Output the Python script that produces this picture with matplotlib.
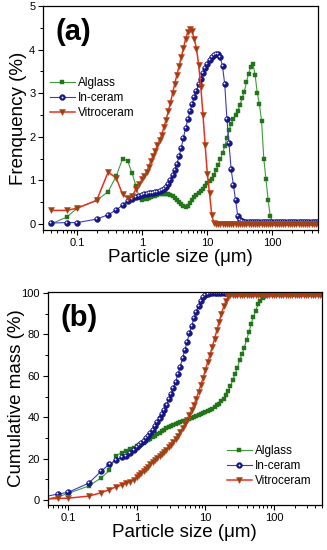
import matplotlib
matplotlib.use('Agg')
import matplotlib.pyplot as plt
import matplotlib.transforms as mtransforms
from matplotlib.ticker import LogLocator, NullFormatter, MultipleLocator, FixedLocator

plt.rcParams['font.family'] = ['Liberation Sans', 'DejaVu Sans']

# particle size grid (um)
sizes = [0.04, 0.07, 0.1, 0.2, 0.3, 0.4, 0.5, 0.6, 0.7, 0.8, 0.9,
         1.0, 1.08, 1.17, 1.26, 1.36, 1.47, 1.58, 1.71, 1.85, 2.0, 2.15, 2.32, 2.51, 2.71, 2.93,
         3.16, 3.41, 3.68, 3.98, 4.3, 4.64, 5.01, 5.41, 5.84, 6.31, 6.81, 7.36, 7.94, 8.58, 9.26,
         10, 10.8, 11.7, 12.6, 13.6, 14.7, 15.8, 17.1, 18.5, 20, 21.5, 23.2, 25.1, 27.1, 29.3,
         31.6, 34.1, 36.8, 39.8, 43, 46.4, 50.1, 54.1, 58.4, 63.1, 68.1, 73.6, 79.4, 85.8, 92.6,
         100, 108, 117, 126, 136, 147, 158, 171, 185, 200, 215,
         232, 251, 271, 293, 316, 341, 368, 398, 430, 464, 500]

# (a) frequency (%)
alglass_freq = [0.0, 0.16, 0.36, 0.54, 0.74, 1.10, 1.50, 1.44, 1.16, 0.88, 0.60,
                0.55, 0.56, 0.58, 0.60, 0.61, 0.63, 0.65, 0.66, 0.68, 0.69, 0.69, 0.69, 0.68, 0.66, 0.63,
                0.59, 0.55, 0.50, 0.45, 0.41, 0.39, 0.42, 0.48, 0.55, 0.61, 0.66, 0.71, 0.76, 0.81, 0.87,
                0.93, 0.98, 1.03, 1.12, 1.23, 1.35, 1.48, 1.62, 1.78, 1.98, 2.15, 2.30, 2.40, 2.50, 2.60,
                2.72, 2.88, 3.02, 3.25, 3.45, 3.60, 3.68, 3.42, 3.00, 2.75, 2.35, 1.50, 1.02, 0.55, 0.17,
                0.05, 0.03, 0.03, 0.03, 0.03, 0.03, 0.03, 0.03, 0.03, 0.03, 0.03,
                0.03, 0.03, 0.03, 0.03, 0.03, 0.03, 0.03, 0.03, 0.03, 0.03, 0.03]
inceram_freq = [0.02, 0.03, 0.03, 0.11, 0.21, 0.32, 0.43, 0.52, 0.57, 0.61, 0.65,
                0.67, 0.68, 0.69, 0.70, 0.71, 0.72, 0.73, 0.74, 0.76, 0.78, 0.81, 0.85, 0.92, 1.00, 1.12,
                1.24, 1.38, 1.55, 1.75, 1.98, 2.20, 2.40, 2.58, 2.75, 2.92, 3.06, 3.20, 3.33, 3.47, 3.58,
                3.68, 3.76, 3.83, 3.88, 3.91, 3.90, 3.82, 3.62, 3.20, 2.40, 1.85, 1.25, 0.90, 0.55, 0.19,
                0.08, 0.06, 0.05, 0.05, 0.05, 0.05, 0.05, 0.05, 0.05, 0.05, 0.05, 0.05, 0.05, 0.05, 0.05,
                0.05, 0.05, 0.05, 0.05, 0.05, 0.05, 0.05, 0.05, 0.05, 0.05, 0.05,
                0.05, 0.05, 0.05, 0.05, 0.05, 0.05, 0.05, 0.05, 0.05, 0.05, 0.05]
vitro_freq = [0.31, 0.31, 0.36, 0.54, 1.19, 1.05, 0.68, 0.59, 0.63, 0.80, 0.92,
              1.02, 1.10, 1.20, 1.31, 1.45, 1.56, 1.68, 1.80, 1.92, 2.05, 2.22, 2.38, 2.58, 2.78, 3.00,
              3.22, 3.42, 3.62, 3.83, 4.03, 4.25, 4.40, 4.48, 4.42, 4.25, 4.02, 3.65, 3.15, 2.50, 1.80,
              1.15, 0.70, 0.20, 0.02, 0.0, 0.0, 0.0, 0.0, 0.0, 0.0, 0.0, 0.0, 0.0, 0.0, 0.0,
              0.0, 0.0, 0.0, 0.0, 0.0, 0.0, 0.0, 0.0, 0.0, 0.0, 0.0, 0.0, 0.0, 0.0, 0.0,
              0.0, 0.0, 0.0, 0.0, 0.0, 0.0, 0.0, 0.0, 0.0, 0.0, 0.0,
              0.0, 0.0, 0.0, 0.0, 0.0, 0.0, 0.0, 0.0, 0.0, 0.0, 0.0]

# (b) cumulative mass (%)
alglass_cum = [0.0, 1.5, 3.2, 6.8, 10.6, 14.3, 21.5, 22.8, 23.8, 24.6, 25.3,
               26.0, 26.5, 27.1, 27.7, 28.3, 28.9, 29.6, 30.3, 31.0, 31.8, 32.6, 33.3, 34.0, 34.6, 35.2,
               35.8, 36.3, 36.8, 37.3, 37.7, 38.0, 38.4, 38.8, 39.2, 39.7, 40.1, 40.5, 41.0, 41.5, 42.0,
               42.5, 43.0, 43.5, 44.0, 44.8, 45.7, 46.6, 47.7, 49.0, 50.5, 52.5, 55.0, 58.0, 61.0, 64.0,
               67.5, 70.5, 73.5, 77.5, 81.0, 85.0, 88.5, 91.5, 94.5, 96.3, 97.6, 98.6, 99.3, 99.6, 99.6,
               99.6, 99.6, 99.6, 99.6, 99.6, 99.6, 99.6, 99.6, 99.6, 99.6, 99.6,
               99.6, 99.6, 99.6, 99.6, 99.6, 99.6, 99.6, 99.6, 99.6, 99.6, 99.6]
inceram_cum = [1.2, 2.9, 3.7, 8.2, 13.8, 17.4, 19.3, 20.6, 21.5, 22.8, 24.2,
               25.4, 26.4, 27.4, 28.5, 29.8, 31.0, 32.4, 34.0, 35.8, 37.6, 39.4, 41.4, 43.6, 46.0, 48.6,
               51.2, 54.0, 57.2, 60.8, 64.5, 68.5, 72.5, 76.5, 80.5, 84.3, 87.8, 91.0, 93.8, 96.2, 98.0,
               99.2, 99.6, 100, 100, 100, 100, 100, 100, 100, 100, 100, 100, 100, 100, 100,
               100, 100, 100, 100, 100, 100, 100, 100, 100, 100, 100, 100, 100, 100, 100,
               100, 100, 100, 100, 100, 100, 100, 100, 100, 100, 100,
               100, 100, 100, 100, 100, 100, 100, 100, 100, 100, 100]
vitro_cum = [0.3, 0.8, 0.9, 1.9, 3.5, 5.0, 6.4, 7.2, 8.0, 8.9, 9.9,
             11.0, 11.9, 12.9, 13.9, 15.0, 16.1, 17.2, 18.3, 19.3, 20.3, 21.2, 22.2, 23.3, 24.4, 25.6,
             26.8, 28.0, 29.4, 31.0, 32.7, 34.6, 36.6, 38.8, 41.0, 43.4, 46.0, 49.0, 52.2, 55.5, 59.0,
             63.0, 66.5, 70.3, 74.0, 78.0, 82.0, 86.0, 90.0, 93.5, 96.3, 98.0, 99.0, 99.2, 99.2, 99.2,
             99.2, 99.2, 99.2, 99.2, 99.2, 99.2, 99.2, 99.2, 99.2, 99.2, 99.2, 99.2, 99.2, 99.2, 99.2,
             99.2, 99.2, 99.2, 99.2, 99.2, 99.2, 99.2, 99.2, 99.2, 99.2, 99.2,
             99.2, 99.2, 99.2, 99.2, 99.2, 99.2, 99.2, 99.2, 99.2, 99.2, 99.2]

labels = ['Alglass', 'In-ceram', 'Vitroceram']

fig = plt.figure(figsize=(3.27, 5.5), dpi=100)
ax_a = fig.add_axes([43/327, 1-230/550, 275/327, 224/550])
ax_b = fig.add_axes([47.5/327, 1-505/550, 274.5/327, 213/550])


def draw(ax, ys, leg_xy):
    g, = ax.plot(sizes, ys[0], '-', color='#3f9b3a', lw=0.8, marker='s', ms=3.5,
                 mfc='#23751a', mec='#23751a', mew=0.3)
    b, = ax.plot(sizes, ys[1], '-', color='#3b3bc0', lw=0.8, marker='o', ms=4.2,
                 mfc='#16168f', mec='#101070', mew=0.3)
    # white shine on the balls
    shine = mtransforms.offset_copy(ax.transData, fig=fig, x=-0.7, y=0.7, units='points')
    hl, = ax.plot(sizes, ys[1], 'o', color='white', ms=1.3, mew=0, transform=shine)
    v, = ax.plot(sizes, ys[2], '-', color='#e8301e', lw=1.1, marker='v', ms=4.4,
                 mfc='#8a4812', mec='#d83a20', mew=0.4)
    ax.set_xscale('log')
    ax.xaxis.set_major_locator(FixedLocator([0.1, 1, 10, 100]))
    ax.set_xticklabels(['0.1', '1', '10', '100'])
    ax.xaxis.set_minor_locator(LogLocator(base=10, subs=range(2, 10), numticks=20))
    ax.xaxis.set_minor_formatter(NullFormatter())
    ax.tick_params(which='major', direction='out', length=3.5, width=0.8, labelsize=8,
                   top=False, right=False, pad=2)
    ax.tick_params(which='minor', direction='out', length=2, width=0.7, top=False, right=False)
    for s in ax.spines.values():
        s.set_linewidth(0.9)
    ax.legend([g, (b, hl), v], labels, loc='upper left', bbox_to_anchor=leg_xy,
              frameon=False, fontsize=8.5, handlelength=2.1, handletextpad=0.25,
              labelspacing=0.27, borderpad=0, borderaxespad=0, numpoints=1)


draw(ax_a, [alglass_freq, inceram_freq, vitro_freq], (0.025, 0.683))
ax_a.set_xlim(0.03, 500)
ax_a.set_ylim(-0.14, 5)
ax_a.yaxis.set_major_locator(MultipleLocator(1))
ax_a.yaxis.set_minor_locator(MultipleLocator(0.5))
ax_a.set_ylabel('Frenquency (%)', fontsize=13.5)
ax_a.set_xlabel('Particle size (\u03bcm)', fontsize=13.5)
ax_a.yaxis.set_label_coords(-0.058, 0.5)
ax_a.xaxis.set_label_coords(0.5, -0.085)
ax_a.text(0.044, 0.945, '(a)', transform=ax_a.transAxes, fontsize=21, fontweight='bold',
          va='top', ha='left')

draw(ax_b, [alglass_cum, inceram_cum, vitro_cum], (0.654, 0.282))
ax_b.set_xlim(0.05, 500)
ax_b.set_ylim(-2.4, 100.5)
ax_b.yaxis.set_major_locator(MultipleLocator(20))
ax_b.yaxis.set_minor_locator(MultipleLocator(10))
ax_b.set_ylabel('Cumulative mass (%)', fontsize=13.5)
ax_b.set_xlabel('Particle size (\u03bcm)', fontsize=13.5)
ax_b.yaxis.set_label_coords(-0.082, 0.5)
ax_b.xaxis.set_label_coords(0.5, -0.09)
ax_b.text(0.046, 0.945, '(b)', transform=ax_b.transAxes, fontsize=21, fontweight='bold',
          va='top', ha='left')

fig.savefig('out.png', dpi=100)
